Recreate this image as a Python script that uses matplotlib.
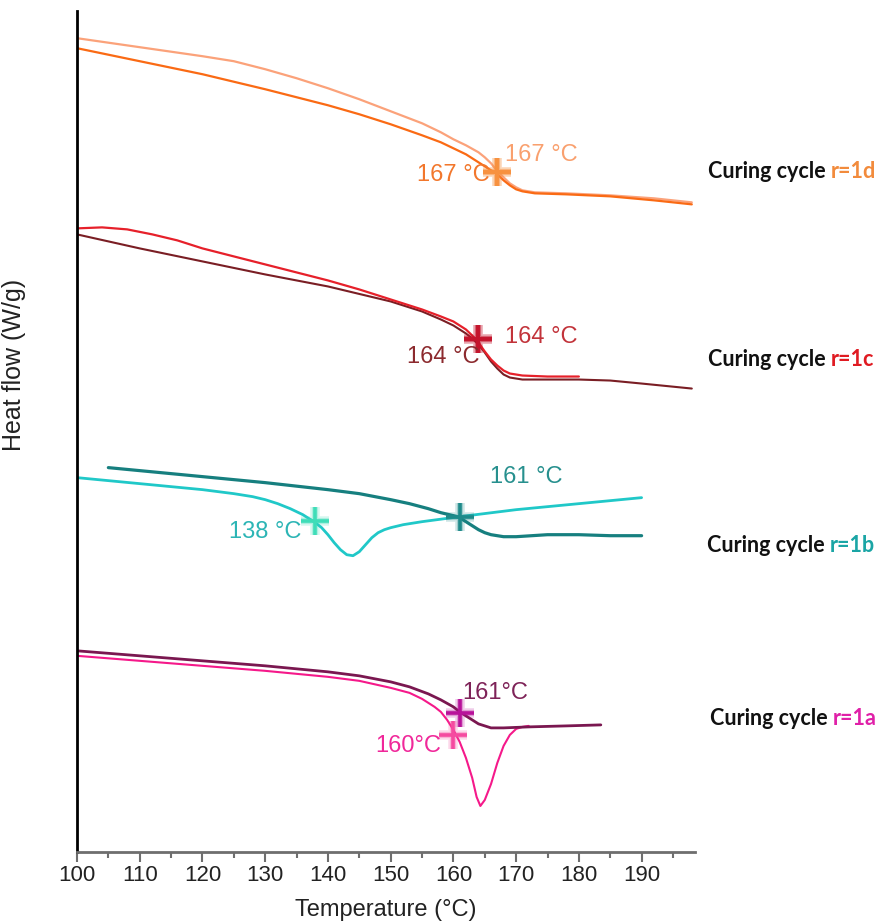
import numpy as np
import matplotlib
matplotlib.use("Agg")
import matplotlib.pyplot as plt
from matplotlib.ticker import MultipleLocator

plt.rcParams['font.family'] = ['Liberation Sans', 'DejaVu Sans']

# Heat flow (arbitrary offset units, plotted downward = endo)
# r=1d
t_1d_a = [100, 110, 120, 125, 130, 135, 140, 145, 150, 155, 158, 160, 162, 164, 165, 166, 167, 168, 169, 170, 171, 173, 178, 185, 192, 198]
hf_1d_a = [39, 48, 57, 62, 70, 79, 89, 100, 112, 124, 133, 140, 146, 153, 158, 164, 172, 178, 184, 188, 191, 193, 194, 196, 199, 203]
t_1d_b = [100, 110, 120, 130, 140, 145, 150, 155, 158, 160, 162, 164, 165, 166, 167, 168, 169, 170, 171, 173, 178, 185, 192, 198]
hf_1d_b = [49, 62, 75, 90, 106, 115, 125, 136, 143, 149, 155, 163, 167, 171, 175, 181, 186, 190, 192, 194, 195, 197, 201, 205]
# r=1c
t_1c_a = [100, 104, 108, 112, 116, 120, 125, 130, 140, 145, 150, 155, 158, 160, 162, 163, 164, 165, 166, 167, 168, 169, 171, 175, 180]
hf_1c_a = [229, 228, 230, 235, 241, 249, 257, 265, 281, 290, 300, 310, 317, 322, 330, 336, 343, 352, 360, 366, 371, 374, 376, 377, 377]
t_1c_b = [100, 110, 120, 130, 140, 150, 155, 158, 160, 162, 163, 164, 165, 166, 167, 168, 169, 171, 175, 180, 185, 190, 198]
hf_1c_b = [235, 249, 262, 275, 287, 302, 312, 320, 326, 334, 339, 345, 353, 362, 369, 375, 378, 380, 380, 380, 381, 384, 389]
# r=1b
t_1b_a = [100, 110, 120, 125, 128, 130, 132, 134, 136, 137, 138, 139, 140, 141, 142, 143, 144, 145, 146, 147, 148, 149, 150, 152, 155, 161, 170, 180, 190]
hf_1b_a = [478, 484, 490, 494, 497, 500, 504, 509, 515, 519, 523, 528, 535, 543, 550, 555, 556, 552, 545, 538, 533, 530, 528, 525, 522, 517, 510, 504, 498]
t_1b_b = [105, 110, 120, 130, 140, 145, 150, 153, 156, 158, 160, 161, 162, 163, 164, 165, 166, 167, 168, 170, 175, 180, 185, 190]
hf_1b_b = [468, 471, 477, 483, 490, 494, 500, 504, 509, 513, 516, 518, 522, 526, 530, 533, 535, 536, 537, 537, 535, 535, 536, 536]
# r=1a
t_1a_a = [100, 110, 120, 130, 140, 145, 150, 153, 155, 157, 158, 159, 160, 161, 162, 163, 163.7, 164.3, 165, 166, 167, 168, 169, 170, 171, 172]
hf_1a_a = [656, 661, 666, 671, 677, 681, 688, 693, 699, 707, 712, 720, 730, 742, 758, 778, 797, 806, 800, 784, 763, 746, 735, 729, 727, 726]
t_1a_b = [100, 110, 120, 130, 140, 145, 150, 153, 156, 158, 160, 161, 162, 163, 164, 165, 166, 168, 172, 178, 183.5]
hf_1a_b = [651, 656, 661, 666, 672, 676, 682, 687, 694, 700, 707, 712, 716, 720, 724, 726, 728, 728, 727, 726, 725]

# glass transition marks
tg_temps = [167, 167, 164, 164, 161, 138, 161, 160]
tg_hf = [173, 173, 340, 340, 517, 521, 713, 735]

fig = plt.figure(figsize=(8.93, 9.22), dpi=100)
ax = fig.add_axes([0.0862, 0.0759, 0.692, 0.912])

curves = [
    (t_1d_a, hf_1d_a, "#FBA27A", 1.6),
    (t_1d_b, hf_1d_b, "#FA6A14", 1.6),
    (t_1c_b, hf_1c_b, "#7A1E24", 1.5),
    (t_1c_a, hf_1c_a, "#E6202A", 1.6),
    (t_1b_b, hf_1b_b, "#167F7F", 2.3),
    (t_1b_a, hf_1b_a, "#20C8C8", 2.0),
    (t_1a_a, hf_1a_a, "#F5198A", 1.5),
    (t_1a_b, hf_1a_b, "#7A1750", 2.0),
]
for t, hf, c, lw in curves:
    ax.plot(t, hf, color=c, lw=lw, solid_capstyle="round", solid_joinstyle="round")

# crosshairs with a soft glow
cross_colors = ["#F7913F", "#F7913F", "#C4142C", "#C4142C", "#1E8A8A", "#3EDDB8", "#B8129A", "#F54AA0"]
for x, y, c in zip(tg_temps, tg_hf, cross_colors):
    ax.plot(x, y, marker="+", ms=20, mew=7, color=c, alpha=0.18, ls="none")
    ax.plot(x, y, marker="+", ms=20, mew=4.5, color=c, alpha=0.3, ls="none")
    ax.plot(x, y, marker="+", ms=20, mew=2.6, color=c, ls="none")

fs = 17
ax.text(168.3, 156, "167 °C", color="#F9A06E", fontsize=fs, va="center", ha="left")
ax.text(165.8, 176, "167 °C", color="#F2772C", fontsize=fs, va="center", ha="right")
ax.text(168.3, 338, "164 °C", color="#C2333A", fontsize=fs, va="center", ha="left")
ax.text(164.2, 357, "164 °C", color="#8C2A2E", fontsize=fs, va="center", ha="right")
ax.text(165.9, 477, "161 °C", color="#27908E", fontsize=fs, va="center", ha="left")
ax.text(135.7, 532, "138 °C", color="#2CB5B5", fontsize=fs, va="center", ha="right")
ax.text(161.4, 693, "161°C", color="#7E2358", fontsize=fs, va="center", ha="left")
ax.text(158.0, 746, "160°C", color="#F0289A", fontsize=fs, va="center", ha="right")

# labels to the right of the plot
cycles = ["r=1d", "r=1c", "r=1b", "r=1a"]
cycle_colors = ["#F28B3C", "#E01B22", "#1AA5A5", "#E020A8"]
cycle_y = [171, 359, 545, 718]
cycle_x = [708, 708, 707, 710]
for name, c, y, x in zip(cycles, cycle_colors, cycle_y, cycle_x):
    yf = 1 - y / 922
    t1 = fig.text(x / 893, yf, "Curing cycle ", color="#111111", fontsize=15.5,
                  fontfamily="Lato", fontweight="bold", va="center", ha="left")
    fig.canvas.draw()
    bb = t1.get_window_extent()
    fig.text(bb.x1 / fig.bbox.width, yf, name, color=c, fontsize=15.5,
             fontfamily="Lato", fontweight="bold", va="center", ha="left")

ax.set_xlim(100, 198.5)
ax.set_ylim(852, 12)
ax.xaxis.set_major_locator(MultipleLocator(10))
ax.xaxis.set_minor_locator(MultipleLocator(5))
ax.set_yticks([])
for s in ["top", "right"]:
    ax.spines[s].set_visible(False)
ax.spines["left"].set_linewidth(2)
ax.spines["left"].set_color("black")
ax.spines["bottom"].set_linewidth(2)
ax.spines["bottom"].set_color("#6E6E6E")
ax.tick_params(axis="x", which="major", length=7, width=1.5, color="#6E6E6E", pad=2)
ax.tick_params(axis="x", which="minor", length=4, width=1.5, color="#6E6E6E")
for lab in ax.get_xticklabels():
    lab.set_fontsize(16)
    lab.set_color("#222222")

ax.set_xlabel("Temperature (°C)", fontsize=17, color="#222222", labelpad=10)
ax.set_ylabel("Heat flow (W/g)", fontsize=18, color="#222222")
ax.yaxis.set_label_coords(-0.083, 0.579)

fig.savefig("out.png", dpi=100)
